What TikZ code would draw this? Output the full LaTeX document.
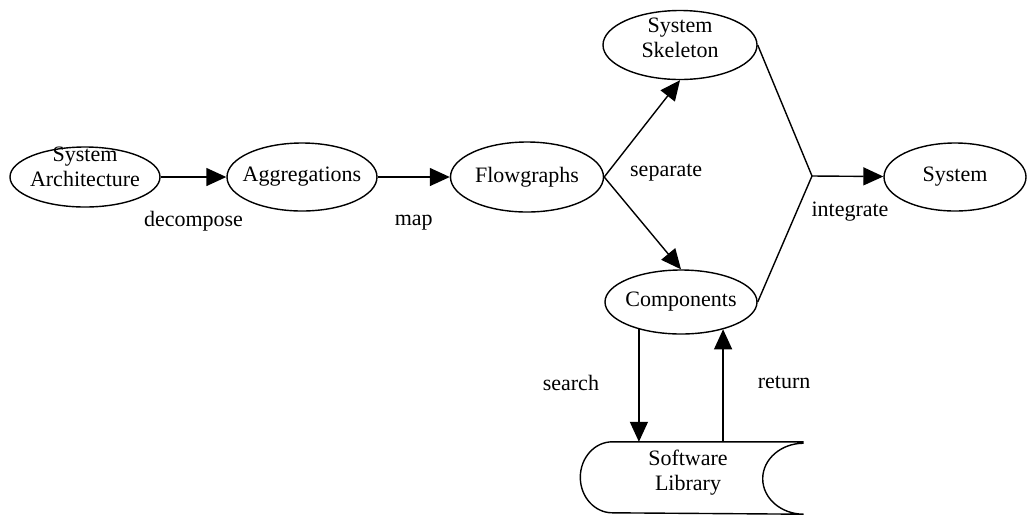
\documentclass[tikz,border=0pt]{standalone}
\usepackage{fontspec}
\setmainfont{Liberation Serif}
\usetikzlibrary{positioning,shapes.geometric,arrows.meta}

\begin{document}
\begin{tikzpicture}[x=0.5pt, y=-0.5pt, -{Triangle[length=10pt,width=9pt]}, line width=0.7pt,
  on grid, font=\fontsize{11}{12.5}\selectfont,
  oval/.style={ellipse, draw, minimum width=75pt, minimum height=34pt, inner sep=0pt},
  caption/.style={align=center, inner sep=0pt}]
\useasboundingbox (0,0) rectangle (1027,516);

\node[oval, minimum height=30pt, label={[caption,yshift=5pt]center:System\\Architecture}] (SysArch) at (85,177) {};
\node[oval, label={[caption]center:Aggregations}] (Aggregations) [right=108.5pt of SysArch] {};
\node[oval, minimum width=76.5pt, minimum height=35pt, label={[caption]center:Flowgraphs}] (Flowgraphs) [right=112.5pt of Aggregations] {};
\node[oval, minimum width=77pt, minimum height=34.5pt, label={[caption,yshift=3.5pt]center:System\\Skeleton}] (Skeleton) [above right=66pt and 76.5pt of Flowgraphs] {};
\node[oval, minimum width=76pt, minimum height=32pt, label={[caption]center:Components}] (Components) [below right=62.5pt and 77pt of Flowgraphs] {};
\node[oval, minimum width=71pt, label={[caption]center:System}] (System) [right=214pt of Flowgraphs] {};
\node[caption, minimum width=95pt, minimum height=35.5pt, label={[caption,xshift=-10pt,yshift=2.5pt]center:Software\\Library}] (Library) [below right=88pt and 13.5pt of Components] {};
\coordinate (Join) at (812,176);

% library outline
\draw[-] (Library.north east) -- (Library.north west)
  arc[start angle=90, end angle=270, x radius=16pt, y radius=17.75pt] -- (Library.south east)
  arc[start angle=270, end angle=90, x radius=20.5pt, y radius=17.75pt];

\path (SysArch) edge node[yshift=-22pt] {decompose} (Aggregations);
\path (Aggregations) edge node[yshift=-23pt] {map} (Flowgraphs);
\path (Flowgraphs.east) edge node[pos=0, xshift=31pt, yshift=2pt] {separate} (Skeleton.south);
\path (Flowgraphs.east) edge (Components.north);
\draw[-] (Skeleton.east) -- (Join);
\draw[-] (Components.east) -- (Join);
\path (Join) edge node[pos=0, xshift=19pt, yshift=-18pt] {integrate} (System);
\path (Components.213) edge node[xshift=-34pt, yshift=1.5pt] {search} (Components.213 |- Library.north);
\path (Components.327 |- Library.north) edge node[xshift=30.5pt, yshift=1.5pt] {return} (Components.327);
\end{tikzpicture}
\end{document}
